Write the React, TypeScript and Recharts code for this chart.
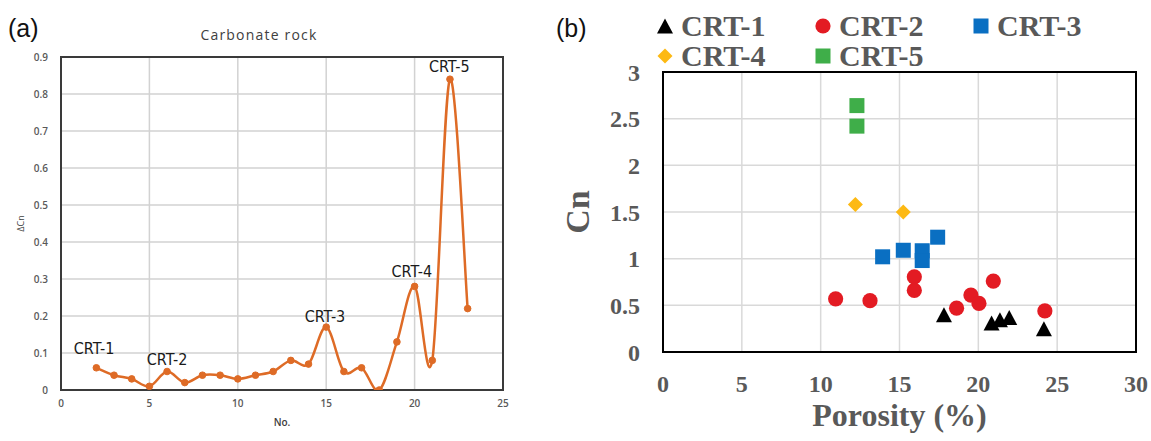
import React from 'react';
import {
  LineChart, Line, XAxis, YAxis, CartesianGrid, ReferenceArea, ReferenceDot,
  ScatterChart, Scatter, Legend,
} from 'recharts';

// ---------- Panel (a) data ----------
const sampleNo = [2, 3, 4, 5, 6, 7, 8, 9, 10, 11, 12, 13, 14, 15, 16, 17, 18, 19, 20, 21, 22, 23];
const deltaCn = [0.06, 0.04, 0.03, 0.01, 0.05, 0.02, 0.04, 0.04, 0.03, 0.04, 0.05, 0.08, 0.07, 0.17, 0.05, 0.06, 0.0, 0.13, 0.28, 0.08, 0.84, 0.22];
const leftXTicks = [0, 5, 10, 15, 20, 25];
const leftYTicks = [0, 0.1, 0.2, 0.3, 0.4, 0.5, 0.6, 0.7, 0.8, 0.9];
const annoText = ['CRT-1', 'CRT-2', 'CRT-3', 'CRT-4', 'CRT-5'];
const annoNo = [1.87, 6.0, 14.93, 19.84, 21.96];
const annoDcn = [0.114, 0.083, 0.2, 0.322, 0.876];

// ---------- Panel (b) data ----------
const seriesNames = ['CRT-1', 'CRT-2', 'CRT-3', 'CRT-4', 'CRT-5'];
const seriesColors = ['#000000', '#E31B23', '#0A6FC2', '#FDB913', '#3FAE49'];
const seriesShapes = ['triangle', 'circle', 'square', 'diamond', 'square'];
const crt1Porosity = [17.82, 20.84, 21.37, 21.96, 24.16];
const crt1Cn = [0.4, 0.31, 0.345, 0.37, 0.25];
const crt2Porosity = [10.95, 13.13, 15.94, 15.94, 18.62, 19.53, 20.04, 20.95, 24.22];
const crt2Cn = [0.57, 0.55, 0.805, 0.66, 0.47, 0.61, 0.52, 0.76, 0.44];
const crt3Porosity = [13.93, 15.24, 16.44, 16.44, 17.42];
const crt3Cn = [1.02, 1.09, 1.085, 0.98, 1.23];
const crt4Porosity = [12.2, 15.24];
const crt4Cn = [1.58, 1.5];
const crt5Porosity = [12.3, 12.3];
const crt5Cn = [2.64, 2.42];
const rightXTicks = [0, 5, 10, 15, 20, 25, 30];
const rightYTicks = [0, 0.5, 1, 1.5, 2, 2.5, 3];

const leftData = sampleNo.map((n, i) => ({ no: n, dcn: deltaCn[i] }));
const zip = (xs: number[], ys: number[]) => xs.map((x, i) => ({ x, y: ys[i] }));
const rightSeries = [
  zip(crt1Porosity, crt1Cn),
  zip(crt2Porosity, crt2Cn),
  zip(crt3Porosity, crt3Cn),
  zip(crt4Porosity, crt4Cn),
  zip(crt5Porosity, crt5Cn),
];

// Excel-like smooth line (Catmull-Rom through points)
function smoothCurve(context: any) {
  let pts: [number, number][] = [];
  return {
    areaStart() {},
    areaEnd() {},
    lineStart() { pts = []; },
    point(x: number, y: number) { pts.push([x, y]); },
    lineEnd() {
      const n = pts.length;
      if (!n) return;
      context.moveTo(pts[0][0], pts[0][1]);
      const t = 1 / 6;
      for (let i = 0; i < n - 1; i++) {
        const p0 = pts[Math.max(i - 1, 0)];
        const p1 = pts[i];
        const p2 = pts[i + 1];
        const p3 = pts[Math.min(i + 2, n - 1)];
        context.bezierCurveTo(
          p1[0] + (p2[0] - p0[0]) * t, p1[1] + (p2[1] - p0[1]) * t,
          p2[0] - (p3[0] - p1[0]) * t, p2[1] - (p3[1] - p1[1]) * t,
          p2[0], p2[1],
        );
      }
    },
  };
}

const ORANGE = '#DE6B26';
const sansTick = { fontFamily: "'Open Sans', sans-serif", fontSize: 10, fontWeight: 600, fill: '#595959' };
const serifTick = { fontFamily: "'Liberation Serif', 'Times New Roman', serif", fontSize: 24, fontWeight: 700, fill: '#595959' };

function drawMarker(kind: string, cx: number, cy: number, color: string, key?: any) {
  if (kind === 'triangle') {
    return <polygon key={key} points={`${cx},${cy - 7.5} ${cx + 8},${cy + 7.5} ${cx - 8},${cy + 7.5}`} fill={color} />;
  }
  if (kind === 'circle') {
    return <circle key={key} cx={cx} cy={cy} r={7.6} fill={color} />;
  }
  if (kind === 'diamond') {
    return <polygon key={key} points={`${cx},${cy - 7.5} ${cx + 7.5},${cy} ${cx},${cy + 7.5} ${cx - 7.5},${cy}`} fill={color} />;
  }
  return <rect key={key} x={cx - 7.5} y={cy - 7.5} width={15} height={15} fill={color} />;
}

const LegendSvg = () => {
  const colX = [115, 273, 431];
  const rowY = [26, 56];
  return (
    <svg width={601} height={75} style={{ display: 'block' }}>
      {seriesNames.map((name, i) => {
        const cx = colX[i % 3];
        const cy = rowY[Math.floor(i / 3)];
        return (
          <g key={name}>
            {drawMarker(seriesShapes[i], cx, cy, seriesColors[i])}
            <text x={cx + 16} y={cy + 10} fontFamily="'Liberation Serif', 'Times New Roman', serif" fontWeight={700} fontSize={30} fill="#595959">{name}</text>
          </g>
        );
      })}
    </svg>
  );
};

const LeftPanel = () => (
  <div style={{ position: 'absolute', left: 0, top: 0, width: 540, height: 441 }}>
    <div style={{ position: 'absolute', left: 8, top: 14, fontFamily: "'Liberation Sans', Arial, sans-serif", fontSize: 25, color: '#111', lineHeight: '28px' }}>(a)</div>
    <div style={{ position: 'absolute', left: 159, width: 200, top: 26, textAlign: 'center', fontFamily: "'Open Sans', sans-serif", fontSize: 14, letterSpacing: 1.2, color: '#404040', lineHeight: '18px' }}>Carbonate rock</div>
    <LineChart width={540} height={441} data={leftData} margin={{ top: 57, right: 37, bottom: 15, left: 0 }}>
      <CartesianGrid stroke="#d2d2d2" strokeWidth={1.5} />
      <XAxis
        type="number" dataKey="no" domain={[0, 25]} ticks={leftXTicks} allowDataOverflow
        height={36} tickSize={0} tickMargin={10} axisLine={false} tickLine={false} tick={sansTick}
        label={{
          content: (p: any) => {
            const vb = p.viewBox;
            return <text x={vb.x + vb.width / 2} y={vb.y + 36} textAnchor="middle" fontFamily="'Open Sans', sans-serif" fontSize={10} fontWeight={600} fill="#404040">No.</text>;
          },
        }}
      />
      <YAxis
        type="number" domain={[0, 0.9]} ticks={leftYTicks} allowDataOverflow
        width={61} tickSize={0} tickMargin={13} axisLine={false} tickLine={false} tick={sansTick}
        label={{
          content: (p: any) => {
            const vb = p.viewBox;
            const x = vb.x + 24;
            const y = vb.y + vb.height / 2;
            return <text x={x} y={y} transform={`rotate(-90 ${x} ${y})`} textAnchor="middle" fontFamily="'Open Sans', sans-serif" fontSize={9} fill="#404040">ΔCn</text>;
          },
        }}
      />
      <ReferenceArea x1={0} x2={25} y1={0} y2={0.9} fill="none" stroke="#3a3a3a" strokeWidth={2} />
      <Line
        dataKey="dcn" type={smoothCurve as any} stroke={ORANGE} strokeWidth={2.5}
        dot={{ r: 3.3, fill: ORANGE, stroke: ORANGE, strokeWidth: 1 }} isAnimationActive={false}
      />
      {annoText.map((t, i) => (
        <ReferenceDot
          key={t} x={annoNo[i]} y={annoDcn[i]} r={0} stroke="none" fill="none"
          label={{ value: t, position: 'center', fill: '#1a1a1a', fontSize: 16, fontFamily: "'Liberation Sans Narrow', 'DejaVu Sans Condensed', sans-serif" }}
        />
      ))}
    </LineChart>
  </div>
);

const RightPanel = () => (
  <div style={{ position: 'absolute', left: 550, top: 0, width: 601, height: 441 }}>
    <div style={{ position: 'absolute', left: 6, top: 14, fontFamily: "'Liberation Sans', Arial, sans-serif", fontSize: 25, color: '#111', lineHeight: '28px' }}>(b)</div>
    <ScatterChart width={601} height={441} margin={{ top: 72, right: 15, bottom: 13, left: 0 }}>
      <CartesianGrid stroke="#d9d9d9" strokeWidth={1.5} />
      <XAxis
        type="number" dataKey="x" domain={[0, 30]} ticks={rightXTicks} allowDataOverflow
        height={76} tickSize={0} tickMargin={23} axisLine={false} tickLine={false} tick={serifTick}
        label={{
          content: (p: any) => {
            const vb = p.viewBox;
            return <text x={vb.x + vb.width / 2} y={vb.y + 74} textAnchor="middle" fontFamily="'Liberation Serif', 'Times New Roman', serif" fontSize={32} fontWeight={700} fill="#595959">Porosity (%)</text>;
          },
        }}
      />
      <YAxis
        type="number" dataKey="y" domain={[0, 3]} ticks={rightYTicks} allowDataOverflow
        width={113} tickSize={0} tickMargin={23} axisLine={false} tickLine={false} tick={serifTick}
        label={{
          content: (p: any) => {
            const vb = p.viewBox;
            const x = vb.x + 39;
            const y = vb.y + vb.height / 2;
            return <text x={x} y={y} transform={`rotate(-90 ${x} ${y})`} textAnchor="middle" fontFamily="'Liberation Serif', 'Times New Roman', serif" fontSize={34} fontWeight={700} fill="#595959">Cn</text>;
          },
        }}
      />
      <ReferenceArea x1={0} x2={30} y1={0} y2={3} fill="none" stroke="#000" strokeWidth={2} />
      <Legend
        verticalAlign="middle" align="center" layout="horizontal"
        wrapperStyle={{ top: 0, left: 0, width: 601, height: 75 }}
        content={() => <LegendSvg />}
      />
      {rightSeries.map((data, i) => (
        <Scatter
          key={seriesNames[i]} name={seriesNames[i]} data={data} fill={seriesColors[i]}
          isAnimationActive={false}
          shape={(p: any) => drawMarker(seriesShapes[i], p.cx, p.cy, seriesColors[i])}
        />
      ))}
    </ScatterChart>
  </div>
);

export default function App() {
  return (
    <div style={{ position: 'absolute', left: 0, top: 0, width: 1151, height: 441, background: '#fff', overflow: 'hidden' }}>
      <LeftPanel />
      <RightPanel />
    </div>
  );
}
